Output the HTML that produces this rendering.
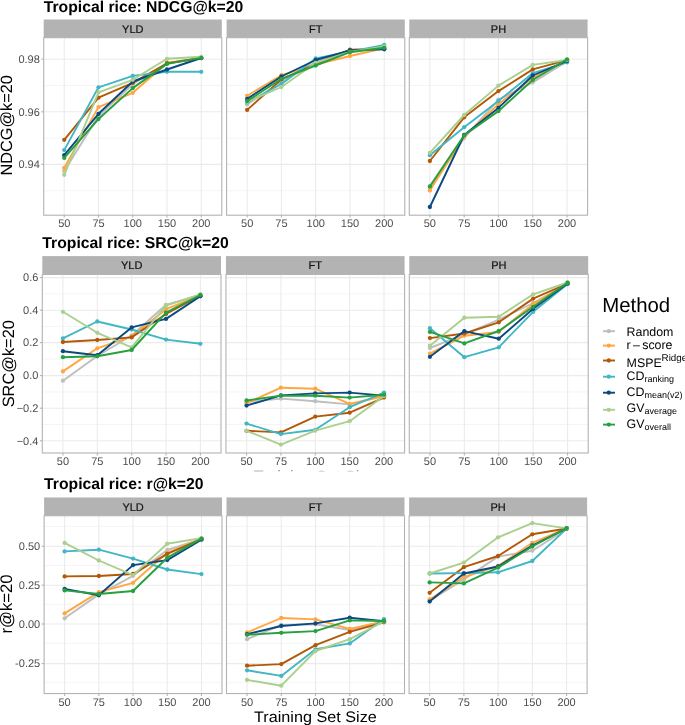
<!DOCTYPE html><html><head><meta charset="utf-8"><style>html,body{margin:0;padding:0;background:#fff;overflow:hidden}svg{display:block;will-change:transform}text{text-rendering:geometricPrecision}</style></head><body>
<svg width="685" height="725" viewBox="0 0 685 725" font-family='"Liberation Sans", sans-serif'>
<rect width="685" height="725" fill="#fff"/>
<text x="43.7" y="11.5" font-size="15.75" font-weight="bold" fill="#000">Tropical rice: NDCG@k=20</text>
<text transform="translate(11.9,125.3) rotate(-90)" text-anchor="middle" font-size="16.3" fill="#000">NDCG@k=20</text>
<rect x="43.70" y="19.50" width="178.10" height="18.20" fill="#B3B3B3"/>
<text x="132.8" y="32.7" text-anchor="middle" font-size="11" fill="#111" stroke="#111" stroke-width="0.2">YLD</text>
<line x1="43.70" x2="221.80" y1="190.7" y2="190.7" stroke="#F1F1F1" stroke-width="0.8"/>
<line x1="43.70" x2="221.80" y1="138.1" y2="138.1" stroke="#F1F1F1" stroke-width="0.8"/>
<line x1="43.70" x2="221.80" y1="85.5" y2="85.5" stroke="#F1F1F1" stroke-width="0.8"/>
<line x1="43.70" x2="221.80" y1="164.4" y2="164.4" stroke="#EBEBEB" stroke-width="1.1"/>
<line x1="43.70" x2="221.80" y1="111.8" y2="111.8" stroke="#EBEBEB" stroke-width="1.1"/>
<line x1="43.70" x2="221.80" y1="59.2" y2="59.2" stroke="#EBEBEB" stroke-width="1.1"/>
<line x1="64.25" x2="64.25" y1="37.70" y2="215.20" stroke="#EBEBEB" stroke-width="1.1"/>
<line x1="98.50" x2="98.50" y1="37.70" y2="215.20" stroke="#EBEBEB" stroke-width="1.1"/>
<line x1="132.75" x2="132.75" y1="37.70" y2="215.20" stroke="#EBEBEB" stroke-width="1.1"/>
<line x1="167.00" x2="167.00" y1="37.70" y2="215.20" stroke="#EBEBEB" stroke-width="1.1"/>
<line x1="201.25" x2="201.25" y1="37.70" y2="215.20" stroke="#EBEBEB" stroke-width="1.1"/>
<polyline points="64.25,171.00 98.50,116.00 132.75,84.20 167.00,63.50 201.25,58.00" fill="none" stroke="#BEBEBE" stroke-width="1.9" stroke-linejoin="round"/>
<circle cx="64.25" cy="171.00" r="2.15" fill="#BEBEBE"/>
<circle cx="98.50" cy="116.00" r="2.15" fill="#BEBEBE"/>
<circle cx="132.75" cy="84.20" r="2.15" fill="#BEBEBE"/>
<circle cx="167.00" cy="63.50" r="2.15" fill="#BEBEBE"/>
<circle cx="201.25" cy="58.00" r="2.15" fill="#BEBEBE"/>
<polyline points="64.25,167.80 98.50,107.10 132.75,92.80 167.00,63.00 201.25,58.00" fill="none" stroke="#FFA640" stroke-width="1.9" stroke-linejoin="round"/>
<circle cx="64.25" cy="167.80" r="2.15" fill="#FFA640"/>
<circle cx="98.50" cy="107.10" r="2.15" fill="#FFA640"/>
<circle cx="132.75" cy="92.80" r="2.15" fill="#FFA640"/>
<circle cx="167.00" cy="63.00" r="2.15" fill="#FFA640"/>
<circle cx="201.25" cy="58.00" r="2.15" fill="#FFA640"/>
<polyline points="64.25,139.80 98.50,97.70 132.75,82.90 167.00,63.20 201.25,58.00" fill="none" stroke="#B35806" stroke-width="1.9" stroke-linejoin="round"/>
<circle cx="64.25" cy="139.80" r="2.15" fill="#B35806"/>
<circle cx="98.50" cy="97.70" r="2.15" fill="#B35806"/>
<circle cx="132.75" cy="82.90" r="2.15" fill="#B35806"/>
<circle cx="167.00" cy="63.20" r="2.15" fill="#B35806"/>
<circle cx="201.25" cy="58.00" r="2.15" fill="#B35806"/>
<polyline points="64.25,150.10 98.50,87.30 132.75,75.90 167.00,71.80 201.25,71.80" fill="none" stroke="#41B6C4" stroke-width="1.9" stroke-linejoin="round"/>
<circle cx="64.25" cy="150.10" r="2.15" fill="#41B6C4"/>
<circle cx="98.50" cy="87.30" r="2.15" fill="#41B6C4"/>
<circle cx="132.75" cy="75.90" r="2.15" fill="#41B6C4"/>
<circle cx="167.00" cy="71.80" r="2.15" fill="#41B6C4"/>
<circle cx="201.25" cy="71.80" r="2.15" fill="#41B6C4"/>
<polyline points="64.25,155.20 98.50,113.80 132.75,81.50 167.00,69.50 201.25,58.00" fill="none" stroke="#0B4A80" stroke-width="1.9" stroke-linejoin="round"/>
<circle cx="64.25" cy="155.20" r="2.15" fill="#0B4A80"/>
<circle cx="98.50" cy="113.80" r="2.15" fill="#0B4A80"/>
<circle cx="132.75" cy="81.50" r="2.15" fill="#0B4A80"/>
<circle cx="167.00" cy="69.50" r="2.15" fill="#0B4A80"/>
<circle cx="201.25" cy="58.00" r="2.15" fill="#0B4A80"/>
<polyline points="64.25,174.80 98.50,92.30 132.75,79.80 167.00,58.80 201.25,56.80" fill="none" stroke="#AACF8E" stroke-width="1.9" stroke-linejoin="round"/>
<circle cx="64.25" cy="174.80" r="2.15" fill="#AACF8E"/>
<circle cx="98.50" cy="92.30" r="2.15" fill="#AACF8E"/>
<circle cx="132.75" cy="79.80" r="2.15" fill="#AACF8E"/>
<circle cx="167.00" cy="58.80" r="2.15" fill="#AACF8E"/>
<circle cx="201.25" cy="56.80" r="2.15" fill="#AACF8E"/>
<polyline points="64.25,157.90 98.50,119.00 132.75,88.10 167.00,63.90 201.25,57.90" fill="none" stroke="#27A03F" stroke-width="1.9" stroke-linejoin="round"/>
<circle cx="64.25" cy="157.90" r="2.15" fill="#27A03F"/>
<circle cx="98.50" cy="119.00" r="2.15" fill="#27A03F"/>
<circle cx="132.75" cy="88.10" r="2.15" fill="#27A03F"/>
<circle cx="167.00" cy="63.90" r="2.15" fill="#27A03F"/>
<circle cx="201.25" cy="57.90" r="2.15" fill="#27A03F"/>
<rect x="43.70" y="37.70" width="178.10" height="177.50" fill="none" stroke="#B3B3B3" stroke-width="1.1"/>
<line x1="64.25" x2="64.25" y1="215.20" y2="217.60" stroke="#B3B3B3" stroke-width="1.1"/>
<text x="64.25" y="227.4" text-anchor="middle" font-size="11" fill="#4D4D4D">50</text>
<line x1="98.50" x2="98.50" y1="215.20" y2="217.60" stroke="#B3B3B3" stroke-width="1.1"/>
<text x="98.50" y="227.4" text-anchor="middle" font-size="11" fill="#4D4D4D">75</text>
<line x1="132.75" x2="132.75" y1="215.20" y2="217.60" stroke="#B3B3B3" stroke-width="1.1"/>
<text x="132.75" y="227.4" text-anchor="middle" font-size="11" fill="#4D4D4D">100</text>
<line x1="167.00" x2="167.00" y1="215.20" y2="217.60" stroke="#B3B3B3" stroke-width="1.1"/>
<text x="167.00" y="227.4" text-anchor="middle" font-size="11" fill="#4D4D4D">150</text>
<line x1="201.25" x2="201.25" y1="215.20" y2="217.60" stroke="#B3B3B3" stroke-width="1.1"/>
<text x="201.25" y="227.4" text-anchor="middle" font-size="11" fill="#4D4D4D">200</text>
<rect x="226.60" y="19.50" width="178.20" height="18.20" fill="#B3B3B3"/>
<text x="315.7" y="32.7" text-anchor="middle" font-size="11" fill="#111" stroke="#111" stroke-width="0.2">FT</text>
<line x1="226.60" x2="404.80" y1="190.7" y2="190.7" stroke="#F1F1F1" stroke-width="0.8"/>
<line x1="226.60" x2="404.80" y1="138.1" y2="138.1" stroke="#F1F1F1" stroke-width="0.8"/>
<line x1="226.60" x2="404.80" y1="85.5" y2="85.5" stroke="#F1F1F1" stroke-width="0.8"/>
<line x1="226.60" x2="404.80" y1="164.4" y2="164.4" stroke="#EBEBEB" stroke-width="1.1"/>
<line x1="226.60" x2="404.80" y1="111.8" y2="111.8" stroke="#EBEBEB" stroke-width="1.1"/>
<line x1="226.60" x2="404.80" y1="59.2" y2="59.2" stroke="#EBEBEB" stroke-width="1.1"/>
<line x1="247.16" x2="247.16" y1="37.70" y2="215.20" stroke="#EBEBEB" stroke-width="1.1"/>
<line x1="281.43" x2="281.43" y1="37.70" y2="215.20" stroke="#EBEBEB" stroke-width="1.1"/>
<line x1="315.70" x2="315.70" y1="37.70" y2="215.20" stroke="#EBEBEB" stroke-width="1.1"/>
<line x1="349.97" x2="349.97" y1="37.70" y2="215.20" stroke="#EBEBEB" stroke-width="1.1"/>
<line x1="384.24" x2="384.24" y1="37.70" y2="215.20" stroke="#EBEBEB" stroke-width="1.1"/>
<polyline points="247.16,104.40 281.43,82.00 315.70,62.00 349.97,51.00 384.24,48.00" fill="none" stroke="#BEBEBE" stroke-width="1.9" stroke-linejoin="round"/>
<circle cx="247.16" cy="104.40" r="2.15" fill="#BEBEBE"/>
<circle cx="281.43" cy="82.00" r="2.15" fill="#BEBEBE"/>
<circle cx="315.70" cy="62.00" r="2.15" fill="#BEBEBE"/>
<circle cx="349.97" cy="51.00" r="2.15" fill="#BEBEBE"/>
<circle cx="384.24" cy="48.00" r="2.15" fill="#BEBEBE"/>
<polyline points="247.16,95.80 281.43,75.20 315.70,64.70 349.97,56.00 384.24,48.20" fill="none" stroke="#FFA640" stroke-width="1.9" stroke-linejoin="round"/>
<circle cx="247.16" cy="95.80" r="2.15" fill="#FFA640"/>
<circle cx="281.43" cy="75.20" r="2.15" fill="#FFA640"/>
<circle cx="315.70" cy="64.70" r="2.15" fill="#FFA640"/>
<circle cx="349.97" cy="56.00" r="2.15" fill="#FFA640"/>
<circle cx="384.24" cy="48.20" r="2.15" fill="#FFA640"/>
<polyline points="247.16,109.90 281.43,79.40 315.70,63.90 349.97,49.70 384.24,48.70" fill="none" stroke="#B35806" stroke-width="1.9" stroke-linejoin="round"/>
<circle cx="247.16" cy="109.90" r="2.15" fill="#B35806"/>
<circle cx="281.43" cy="79.40" r="2.15" fill="#B35806"/>
<circle cx="315.70" cy="63.90" r="2.15" fill="#B35806"/>
<circle cx="349.97" cy="49.70" r="2.15" fill="#B35806"/>
<circle cx="384.24" cy="48.70" r="2.15" fill="#B35806"/>
<polyline points="247.16,102.40 281.43,84.00 315.70,58.50 349.97,51.60 384.24,45.00" fill="none" stroke="#41B6C4" stroke-width="1.9" stroke-linejoin="round"/>
<circle cx="247.16" cy="102.40" r="2.15" fill="#41B6C4"/>
<circle cx="281.43" cy="84.00" r="2.15" fill="#41B6C4"/>
<circle cx="315.70" cy="58.50" r="2.15" fill="#41B6C4"/>
<circle cx="349.97" cy="51.60" r="2.15" fill="#41B6C4"/>
<circle cx="384.24" cy="45.00" r="2.15" fill="#41B6C4"/>
<polyline points="247.16,98.90 281.43,76.50 315.70,60.00 349.97,50.40 384.24,49.30" fill="none" stroke="#0B4A80" stroke-width="1.9" stroke-linejoin="round"/>
<circle cx="247.16" cy="98.90" r="2.15" fill="#0B4A80"/>
<circle cx="281.43" cy="76.50" r="2.15" fill="#0B4A80"/>
<circle cx="315.70" cy="60.00" r="2.15" fill="#0B4A80"/>
<circle cx="349.97" cy="50.40" r="2.15" fill="#0B4A80"/>
<circle cx="384.24" cy="49.30" r="2.15" fill="#0B4A80"/>
<polyline points="247.16,101.80 281.43,87.00 315.70,62.80 349.97,51.90 384.24,46.40" fill="none" stroke="#AACF8E" stroke-width="1.9" stroke-linejoin="round"/>
<circle cx="247.16" cy="101.80" r="2.15" fill="#AACF8E"/>
<circle cx="281.43" cy="87.00" r="2.15" fill="#AACF8E"/>
<circle cx="315.70" cy="62.80" r="2.15" fill="#AACF8E"/>
<circle cx="349.97" cy="51.90" r="2.15" fill="#AACF8E"/>
<circle cx="384.24" cy="46.40" r="2.15" fill="#AACF8E"/>
<polyline points="247.16,101.10 281.43,78.80 315.70,65.50 349.97,52.20 384.24,47.80" fill="none" stroke="#27A03F" stroke-width="1.9" stroke-linejoin="round"/>
<circle cx="247.16" cy="101.10" r="2.15" fill="#27A03F"/>
<circle cx="281.43" cy="78.80" r="2.15" fill="#27A03F"/>
<circle cx="315.70" cy="65.50" r="2.15" fill="#27A03F"/>
<circle cx="349.97" cy="52.20" r="2.15" fill="#27A03F"/>
<circle cx="384.24" cy="47.80" r="2.15" fill="#27A03F"/>
<rect x="226.60" y="37.70" width="178.20" height="177.50" fill="none" stroke="#B3B3B3" stroke-width="1.1"/>
<line x1="247.16" x2="247.16" y1="215.20" y2="217.60" stroke="#B3B3B3" stroke-width="1.1"/>
<text x="247.16" y="227.4" text-anchor="middle" font-size="11" fill="#4D4D4D">50</text>
<line x1="281.43" x2="281.43" y1="215.20" y2="217.60" stroke="#B3B3B3" stroke-width="1.1"/>
<text x="281.43" y="227.4" text-anchor="middle" font-size="11" fill="#4D4D4D">75</text>
<line x1="315.70" x2="315.70" y1="215.20" y2="217.60" stroke="#B3B3B3" stroke-width="1.1"/>
<text x="315.70" y="227.4" text-anchor="middle" font-size="11" fill="#4D4D4D">100</text>
<line x1="349.97" x2="349.97" y1="215.20" y2="217.60" stroke="#B3B3B3" stroke-width="1.1"/>
<text x="349.97" y="227.4" text-anchor="middle" font-size="11" fill="#4D4D4D">150</text>
<line x1="384.24" x2="384.24" y1="215.20" y2="217.60" stroke="#B3B3B3" stroke-width="1.1"/>
<text x="384.24" y="227.4" text-anchor="middle" font-size="11" fill="#4D4D4D">200</text>
<rect x="409.30" y="19.50" width="178.30" height="18.20" fill="#B3B3B3"/>
<text x="498.5" y="32.7" text-anchor="middle" font-size="11" fill="#111" stroke="#111" stroke-width="0.2">PH</text>
<line x1="409.30" x2="587.60" y1="190.7" y2="190.7" stroke="#F1F1F1" stroke-width="0.8"/>
<line x1="409.30" x2="587.60" y1="138.1" y2="138.1" stroke="#F1F1F1" stroke-width="0.8"/>
<line x1="409.30" x2="587.60" y1="85.5" y2="85.5" stroke="#F1F1F1" stroke-width="0.8"/>
<line x1="409.30" x2="587.60" y1="164.4" y2="164.4" stroke="#EBEBEB" stroke-width="1.1"/>
<line x1="409.30" x2="587.60" y1="111.8" y2="111.8" stroke="#EBEBEB" stroke-width="1.1"/>
<line x1="409.30" x2="587.60" y1="59.2" y2="59.2" stroke="#EBEBEB" stroke-width="1.1"/>
<line x1="429.87" x2="429.87" y1="37.70" y2="215.20" stroke="#EBEBEB" stroke-width="1.1"/>
<line x1="464.16" x2="464.16" y1="37.70" y2="215.20" stroke="#EBEBEB" stroke-width="1.1"/>
<line x1="498.45" x2="498.45" y1="37.70" y2="215.20" stroke="#EBEBEB" stroke-width="1.1"/>
<line x1="532.74" x2="532.74" y1="37.70" y2="215.20" stroke="#EBEBEB" stroke-width="1.1"/>
<line x1="567.03" x2="567.03" y1="37.70" y2="215.20" stroke="#EBEBEB" stroke-width="1.1"/>
<polyline points="429.87,188.50 464.16,138.00 498.45,99.60 532.74,82.40 567.03,61.50" fill="none" stroke="#BEBEBE" stroke-width="1.9" stroke-linejoin="round"/>
<circle cx="429.87" cy="188.50" r="2.15" fill="#BEBEBE"/>
<circle cx="464.16" cy="138.00" r="2.15" fill="#BEBEBE"/>
<circle cx="498.45" cy="99.60" r="2.15" fill="#BEBEBE"/>
<circle cx="532.74" cy="82.40" r="2.15" fill="#BEBEBE"/>
<circle cx="567.03" cy="61.50" r="2.15" fill="#BEBEBE"/>
<polyline points="429.87,190.60 464.16,136.40 498.45,104.20 532.74,77.80 567.03,60.50" fill="none" stroke="#FFA640" stroke-width="1.9" stroke-linejoin="round"/>
<circle cx="429.87" cy="190.60" r="2.15" fill="#FFA640"/>
<circle cx="464.16" cy="136.40" r="2.15" fill="#FFA640"/>
<circle cx="498.45" cy="104.20" r="2.15" fill="#FFA640"/>
<circle cx="532.74" cy="77.80" r="2.15" fill="#FFA640"/>
<circle cx="567.03" cy="60.50" r="2.15" fill="#FFA640"/>
<polyline points="429.87,161.00 464.16,117.30 498.45,91.10 532.74,69.40 567.03,60.20" fill="none" stroke="#B35806" stroke-width="1.9" stroke-linejoin="round"/>
<circle cx="429.87" cy="161.00" r="2.15" fill="#B35806"/>
<circle cx="464.16" cy="117.30" r="2.15" fill="#B35806"/>
<circle cx="498.45" cy="91.10" r="2.15" fill="#B35806"/>
<circle cx="532.74" cy="69.40" r="2.15" fill="#B35806"/>
<circle cx="567.03" cy="60.20" r="2.15" fill="#B35806"/>
<polyline points="429.87,155.20 464.16,127.20 498.45,101.00 532.74,73.20 567.03,62.30" fill="none" stroke="#41B6C4" stroke-width="1.9" stroke-linejoin="round"/>
<circle cx="429.87" cy="155.20" r="2.15" fill="#41B6C4"/>
<circle cx="464.16" cy="127.20" r="2.15" fill="#41B6C4"/>
<circle cx="498.45" cy="101.00" r="2.15" fill="#41B6C4"/>
<circle cx="532.74" cy="73.20" r="2.15" fill="#41B6C4"/>
<circle cx="567.03" cy="62.30" r="2.15" fill="#41B6C4"/>
<polyline points="429.87,207.00 464.16,135.00 498.45,107.90 532.74,75.50 567.03,61.00" fill="none" stroke="#0B4A80" stroke-width="1.9" stroke-linejoin="round"/>
<circle cx="429.87" cy="207.00" r="2.15" fill="#0B4A80"/>
<circle cx="464.16" cy="135.00" r="2.15" fill="#0B4A80"/>
<circle cx="498.45" cy="107.90" r="2.15" fill="#0B4A80"/>
<circle cx="532.74" cy="75.50" r="2.15" fill="#0B4A80"/>
<circle cx="567.03" cy="61.00" r="2.15" fill="#0B4A80"/>
<polyline points="429.87,152.80 464.16,115.00 498.45,85.60 532.74,64.90 567.03,60.00" fill="none" stroke="#AACF8E" stroke-width="1.9" stroke-linejoin="round"/>
<circle cx="429.87" cy="152.80" r="2.15" fill="#AACF8E"/>
<circle cx="464.16" cy="115.00" r="2.15" fill="#AACF8E"/>
<circle cx="498.45" cy="85.60" r="2.15" fill="#AACF8E"/>
<circle cx="532.74" cy="64.90" r="2.15" fill="#AACF8E"/>
<circle cx="567.03" cy="60.00" r="2.15" fill="#AACF8E"/>
<polyline points="429.87,186.40 464.16,135.30 498.45,111.10 532.74,80.00 567.03,59.40" fill="none" stroke="#27A03F" stroke-width="1.9" stroke-linejoin="round"/>
<circle cx="429.87" cy="186.40" r="2.15" fill="#27A03F"/>
<circle cx="464.16" cy="135.30" r="2.15" fill="#27A03F"/>
<circle cx="498.45" cy="111.10" r="2.15" fill="#27A03F"/>
<circle cx="532.74" cy="80.00" r="2.15" fill="#27A03F"/>
<circle cx="567.03" cy="59.40" r="2.15" fill="#27A03F"/>
<rect x="409.30" y="37.70" width="178.30" height="177.50" fill="none" stroke="#B3B3B3" stroke-width="1.1"/>
<line x1="429.87" x2="429.87" y1="215.20" y2="217.60" stroke="#B3B3B3" stroke-width="1.1"/>
<text x="429.87" y="227.4" text-anchor="middle" font-size="11" fill="#4D4D4D">50</text>
<line x1="464.16" x2="464.16" y1="215.20" y2="217.60" stroke="#B3B3B3" stroke-width="1.1"/>
<text x="464.16" y="227.4" text-anchor="middle" font-size="11" fill="#4D4D4D">75</text>
<line x1="498.45" x2="498.45" y1="215.20" y2="217.60" stroke="#B3B3B3" stroke-width="1.1"/>
<text x="498.45" y="227.4" text-anchor="middle" font-size="11" fill="#4D4D4D">100</text>
<line x1="532.74" x2="532.74" y1="215.20" y2="217.60" stroke="#B3B3B3" stroke-width="1.1"/>
<text x="532.74" y="227.4" text-anchor="middle" font-size="11" fill="#4D4D4D">150</text>
<line x1="567.03" x2="567.03" y1="215.20" y2="217.60" stroke="#B3B3B3" stroke-width="1.1"/>
<text x="567.03" y="227.4" text-anchor="middle" font-size="11" fill="#4D4D4D">200</text>
<line x1="41.30" x2="43.70" y1="164.4" y2="164.4" stroke="#B3B3B3" stroke-width="1.1"/>
<text x="39.80" y="168.2" text-anchor="end" font-size="11" fill="#4D4D4D">0.94</text>
<line x1="41.30" x2="43.70" y1="111.8" y2="111.8" stroke="#B3B3B3" stroke-width="1.1"/>
<text x="39.80" y="115.6" text-anchor="end" font-size="11" fill="#4D4D4D">0.96</text>
<line x1="41.30" x2="43.70" y1="59.2" y2="59.2" stroke="#B3B3B3" stroke-width="1.1"/>
<text x="39.80" y="63.0" text-anchor="end" font-size="11" fill="#4D4D4D">0.98</text>
<text x="42.3" y="248.2" font-size="15.75" font-weight="bold" fill="#000">Tropical rice: SRC@k=20</text>
<text transform="translate(13.9,363.7) rotate(-90)" text-anchor="middle" font-size="16.4" fill="#000">SRC@k=20</text>
<rect x="42.30" y="256.10" width="178.70" height="18.30" fill="#B3B3B3"/>
<text x="131.7" y="269.4" text-anchor="middle" font-size="11" fill="#111" stroke="#111" stroke-width="0.2">YLD</text>
<line x1="42.30" x2="221.00" y1="424.5" y2="424.5" stroke="#F1F1F1" stroke-width="0.8"/>
<line x1="42.30" x2="221.00" y1="391.9" y2="391.9" stroke="#F1F1F1" stroke-width="0.8"/>
<line x1="42.30" x2="221.00" y1="359.1" y2="359.1" stroke="#F1F1F1" stroke-width="0.8"/>
<line x1="42.30" x2="221.00" y1="326.4" y2="326.4" stroke="#F1F1F1" stroke-width="0.8"/>
<line x1="42.30" x2="221.00" y1="293.9" y2="293.9" stroke="#F1F1F1" stroke-width="0.8"/>
<line x1="42.30" x2="221.00" y1="440.8" y2="440.8" stroke="#EBEBEB" stroke-width="1.1"/>
<line x1="42.30" x2="221.00" y1="408.2" y2="408.2" stroke="#EBEBEB" stroke-width="1.1"/>
<line x1="42.30" x2="221.00" y1="375.6" y2="375.6" stroke="#EBEBEB" stroke-width="1.1"/>
<line x1="42.30" x2="221.00" y1="342.6" y2="342.6" stroke="#EBEBEB" stroke-width="1.1"/>
<line x1="42.30" x2="221.00" y1="310.2" y2="310.2" stroke="#EBEBEB" stroke-width="1.1"/>
<line x1="42.30" x2="221.00" y1="277.6" y2="277.6" stroke="#EBEBEB" stroke-width="1.1"/>
<line x1="62.92" x2="62.92" y1="274.40" y2="453.00" stroke="#EBEBEB" stroke-width="1.1"/>
<line x1="97.28" x2="97.28" y1="274.40" y2="453.00" stroke="#EBEBEB" stroke-width="1.1"/>
<line x1="131.65" x2="131.65" y1="274.40" y2="453.00" stroke="#EBEBEB" stroke-width="1.1"/>
<line x1="166.02" x2="166.02" y1="274.40" y2="453.00" stroke="#EBEBEB" stroke-width="1.1"/>
<line x1="200.38" x2="200.38" y1="274.40" y2="453.00" stroke="#EBEBEB" stroke-width="1.1"/>
<polyline points="62.92,380.70 97.28,356.00 131.65,335.50 166.02,304.80 200.38,295.00" fill="none" stroke="#BEBEBE" stroke-width="1.9" stroke-linejoin="round"/>
<circle cx="62.92" cy="380.70" r="2.15" fill="#BEBEBE"/>
<circle cx="97.28" cy="356.00" r="2.15" fill="#BEBEBE"/>
<circle cx="131.65" cy="335.50" r="2.15" fill="#BEBEBE"/>
<circle cx="166.02" cy="304.80" r="2.15" fill="#BEBEBE"/>
<circle cx="200.38" cy="295.00" r="2.15" fill="#BEBEBE"/>
<polyline points="62.92,371.40 97.28,348.30 131.65,336.30 166.02,309.20 200.38,295.50" fill="none" stroke="#FFA640" stroke-width="1.9" stroke-linejoin="round"/>
<circle cx="62.92" cy="371.40" r="2.15" fill="#FFA640"/>
<circle cx="97.28" cy="348.30" r="2.15" fill="#FFA640"/>
<circle cx="131.65" cy="336.30" r="2.15" fill="#FFA640"/>
<circle cx="166.02" cy="309.20" r="2.15" fill="#FFA640"/>
<circle cx="200.38" cy="295.50" r="2.15" fill="#FFA640"/>
<polyline points="62.92,342.00 97.28,340.00 131.65,337.40 166.02,314.00 200.38,295.60" fill="none" stroke="#B35806" stroke-width="1.9" stroke-linejoin="round"/>
<circle cx="62.92" cy="342.00" r="2.15" fill="#B35806"/>
<circle cx="97.28" cy="340.00" r="2.15" fill="#B35806"/>
<circle cx="131.65" cy="337.40" r="2.15" fill="#B35806"/>
<circle cx="166.02" cy="314.00" r="2.15" fill="#B35806"/>
<circle cx="200.38" cy="295.60" r="2.15" fill="#B35806"/>
<polyline points="62.92,338.30 97.28,321.50 131.65,329.50 166.02,339.60 200.38,343.80" fill="none" stroke="#41B6C4" stroke-width="1.9" stroke-linejoin="round"/>
<circle cx="62.92" cy="338.30" r="2.15" fill="#41B6C4"/>
<circle cx="97.28" cy="321.50" r="2.15" fill="#41B6C4"/>
<circle cx="131.65" cy="329.50" r="2.15" fill="#41B6C4"/>
<circle cx="166.02" cy="339.60" r="2.15" fill="#41B6C4"/>
<circle cx="200.38" cy="343.80" r="2.15" fill="#41B6C4"/>
<polyline points="62.92,351.20 97.28,355.20 131.65,327.40 166.02,318.90 200.38,296.30" fill="none" stroke="#0B4A80" stroke-width="1.9" stroke-linejoin="round"/>
<circle cx="62.92" cy="351.20" r="2.15" fill="#0B4A80"/>
<circle cx="97.28" cy="355.20" r="2.15" fill="#0B4A80"/>
<circle cx="131.65" cy="327.40" r="2.15" fill="#0B4A80"/>
<circle cx="166.02" cy="318.90" r="2.15" fill="#0B4A80"/>
<circle cx="200.38" cy="296.30" r="2.15" fill="#0B4A80"/>
<polyline points="62.92,311.80 97.28,332.80 131.65,347.40 166.02,305.50 200.38,294.30" fill="none" stroke="#AACF8E" stroke-width="1.9" stroke-linejoin="round"/>
<circle cx="62.92" cy="311.80" r="2.15" fill="#AACF8E"/>
<circle cx="97.28" cy="332.80" r="2.15" fill="#AACF8E"/>
<circle cx="131.65" cy="347.40" r="2.15" fill="#AACF8E"/>
<circle cx="166.02" cy="305.50" r="2.15" fill="#AACF8E"/>
<circle cx="200.38" cy="294.30" r="2.15" fill="#AACF8E"/>
<polyline points="62.92,357.20 97.28,356.30 131.65,350.00 166.02,312.70 200.38,295.00" fill="none" stroke="#27A03F" stroke-width="1.9" stroke-linejoin="round"/>
<circle cx="62.92" cy="357.20" r="2.15" fill="#27A03F"/>
<circle cx="97.28" cy="356.30" r="2.15" fill="#27A03F"/>
<circle cx="131.65" cy="350.00" r="2.15" fill="#27A03F"/>
<circle cx="166.02" cy="312.70" r="2.15" fill="#27A03F"/>
<circle cx="200.38" cy="295.00" r="2.15" fill="#27A03F"/>
<rect x="42.30" y="274.40" width="178.70" height="178.60" fill="none" stroke="#B3B3B3" stroke-width="1.1"/>
<line x1="62.92" x2="62.92" y1="453.00" y2="455.40" stroke="#B3B3B3" stroke-width="1.1"/>
<text x="62.92" y="465.2" text-anchor="middle" font-size="11" fill="#4D4D4D">50</text>
<line x1="97.28" x2="97.28" y1="453.00" y2="455.40" stroke="#B3B3B3" stroke-width="1.1"/>
<text x="97.28" y="465.2" text-anchor="middle" font-size="11" fill="#4D4D4D">75</text>
<line x1="131.65" x2="131.65" y1="453.00" y2="455.40" stroke="#B3B3B3" stroke-width="1.1"/>
<text x="131.65" y="465.2" text-anchor="middle" font-size="11" fill="#4D4D4D">100</text>
<line x1="166.02" x2="166.02" y1="453.00" y2="455.40" stroke="#B3B3B3" stroke-width="1.1"/>
<text x="166.02" y="465.2" text-anchor="middle" font-size="11" fill="#4D4D4D">150</text>
<line x1="200.38" x2="200.38" y1="453.00" y2="455.40" stroke="#B3B3B3" stroke-width="1.1"/>
<text x="200.38" y="465.2" text-anchor="middle" font-size="11" fill="#4D4D4D">200</text>
<rect x="225.95" y="256.10" width="178.65" height="18.30" fill="#B3B3B3"/>
<text x="315.3" y="269.4" text-anchor="middle" font-size="11" fill="#111" stroke="#111" stroke-width="0.2">FT</text>
<line x1="225.95" x2="404.60" y1="424.5" y2="424.5" stroke="#F1F1F1" stroke-width="0.8"/>
<line x1="225.95" x2="404.60" y1="391.9" y2="391.9" stroke="#F1F1F1" stroke-width="0.8"/>
<line x1="225.95" x2="404.60" y1="359.1" y2="359.1" stroke="#F1F1F1" stroke-width="0.8"/>
<line x1="225.95" x2="404.60" y1="326.4" y2="326.4" stroke="#F1F1F1" stroke-width="0.8"/>
<line x1="225.95" x2="404.60" y1="293.9" y2="293.9" stroke="#F1F1F1" stroke-width="0.8"/>
<line x1="225.95" x2="404.60" y1="440.8" y2="440.8" stroke="#EBEBEB" stroke-width="1.1"/>
<line x1="225.95" x2="404.60" y1="408.2" y2="408.2" stroke="#EBEBEB" stroke-width="1.1"/>
<line x1="225.95" x2="404.60" y1="375.6" y2="375.6" stroke="#EBEBEB" stroke-width="1.1"/>
<line x1="225.95" x2="404.60" y1="342.6" y2="342.6" stroke="#EBEBEB" stroke-width="1.1"/>
<line x1="225.95" x2="404.60" y1="310.2" y2="310.2" stroke="#EBEBEB" stroke-width="1.1"/>
<line x1="225.95" x2="404.60" y1="277.6" y2="277.6" stroke="#EBEBEB" stroke-width="1.1"/>
<line x1="246.56" x2="246.56" y1="274.40" y2="453.00" stroke="#EBEBEB" stroke-width="1.1"/>
<line x1="280.92" x2="280.92" y1="274.40" y2="453.00" stroke="#EBEBEB" stroke-width="1.1"/>
<line x1="315.27" x2="315.27" y1="274.40" y2="453.00" stroke="#EBEBEB" stroke-width="1.1"/>
<line x1="349.63" x2="349.63" y1="274.40" y2="453.00" stroke="#EBEBEB" stroke-width="1.1"/>
<line x1="383.99" x2="383.99" y1="274.40" y2="453.00" stroke="#EBEBEB" stroke-width="1.1"/>
<polyline points="246.56,402.00 280.92,398.60 315.27,401.20 349.63,404.40 383.99,395.60" fill="none" stroke="#BEBEBE" stroke-width="1.9" stroke-linejoin="round"/>
<circle cx="246.56" cy="402.00" r="2.15" fill="#BEBEBE"/>
<circle cx="280.92" cy="398.60" r="2.15" fill="#BEBEBE"/>
<circle cx="315.27" cy="401.20" r="2.15" fill="#BEBEBE"/>
<circle cx="349.63" cy="404.40" r="2.15" fill="#BEBEBE"/>
<circle cx="383.99" cy="395.60" r="2.15" fill="#BEBEBE"/>
<polyline points="246.56,403.20 280.92,387.70 315.27,388.70 349.63,403.90 383.99,396.30" fill="none" stroke="#FFA640" stroke-width="1.9" stroke-linejoin="round"/>
<circle cx="246.56" cy="403.20" r="2.15" fill="#FFA640"/>
<circle cx="280.92" cy="387.70" r="2.15" fill="#FFA640"/>
<circle cx="315.27" cy="388.70" r="2.15" fill="#FFA640"/>
<circle cx="349.63" cy="403.90" r="2.15" fill="#FFA640"/>
<circle cx="383.99" cy="396.30" r="2.15" fill="#FFA640"/>
<polyline points="246.56,430.80 280.92,432.40 315.27,416.60 349.63,412.70 383.99,397.60" fill="none" stroke="#B35806" stroke-width="1.9" stroke-linejoin="round"/>
<circle cx="246.56" cy="430.80" r="2.15" fill="#B35806"/>
<circle cx="280.92" cy="432.40" r="2.15" fill="#B35806"/>
<circle cx="315.27" cy="416.60" r="2.15" fill="#B35806"/>
<circle cx="349.63" cy="412.70" r="2.15" fill="#B35806"/>
<circle cx="383.99" cy="397.60" r="2.15" fill="#B35806"/>
<polyline points="246.56,423.60 280.92,434.10 315.27,429.80 349.63,407.20 383.99,392.60" fill="none" stroke="#41B6C4" stroke-width="1.9" stroke-linejoin="round"/>
<circle cx="246.56" cy="423.60" r="2.15" fill="#41B6C4"/>
<circle cx="280.92" cy="434.10" r="2.15" fill="#41B6C4"/>
<circle cx="315.27" cy="429.80" r="2.15" fill="#41B6C4"/>
<circle cx="349.63" cy="407.20" r="2.15" fill="#41B6C4"/>
<circle cx="383.99" cy="392.60" r="2.15" fill="#41B6C4"/>
<polyline points="246.56,405.60 280.92,395.40 315.27,393.40 349.63,392.60 383.99,395.60" fill="none" stroke="#0B4A80" stroke-width="1.9" stroke-linejoin="round"/>
<circle cx="246.56" cy="405.60" r="2.15" fill="#0B4A80"/>
<circle cx="280.92" cy="395.40" r="2.15" fill="#0B4A80"/>
<circle cx="315.27" cy="393.40" r="2.15" fill="#0B4A80"/>
<circle cx="349.63" cy="392.60" r="2.15" fill="#0B4A80"/>
<circle cx="383.99" cy="395.60" r="2.15" fill="#0B4A80"/>
<polyline points="246.56,430.80 280.92,444.60 315.27,430.70 349.63,421.20 383.99,396.00" fill="none" stroke="#AACF8E" stroke-width="1.9" stroke-linejoin="round"/>
<circle cx="246.56" cy="430.80" r="2.15" fill="#AACF8E"/>
<circle cx="280.92" cy="444.60" r="2.15" fill="#AACF8E"/>
<circle cx="315.27" cy="430.70" r="2.15" fill="#AACF8E"/>
<circle cx="349.63" cy="421.20" r="2.15" fill="#AACF8E"/>
<circle cx="383.99" cy="396.00" r="2.15" fill="#AACF8E"/>
<polyline points="246.56,400.50 280.92,395.60 315.27,395.70 349.63,397.60 383.99,394.70" fill="none" stroke="#27A03F" stroke-width="1.9" stroke-linejoin="round"/>
<circle cx="246.56" cy="400.50" r="2.15" fill="#27A03F"/>
<circle cx="280.92" cy="395.60" r="2.15" fill="#27A03F"/>
<circle cx="315.27" cy="395.70" r="2.15" fill="#27A03F"/>
<circle cx="349.63" cy="397.60" r="2.15" fill="#27A03F"/>
<circle cx="383.99" cy="394.70" r="2.15" fill="#27A03F"/>
<rect x="225.95" y="274.40" width="178.65" height="178.60" fill="none" stroke="#B3B3B3" stroke-width="1.1"/>
<line x1="246.56" x2="246.56" y1="453.00" y2="455.40" stroke="#B3B3B3" stroke-width="1.1"/>
<text x="246.56" y="465.2" text-anchor="middle" font-size="11" fill="#4D4D4D">50</text>
<line x1="280.92" x2="280.92" y1="453.00" y2="455.40" stroke="#B3B3B3" stroke-width="1.1"/>
<text x="280.92" y="465.2" text-anchor="middle" font-size="11" fill="#4D4D4D">75</text>
<line x1="315.27" x2="315.27" y1="453.00" y2="455.40" stroke="#B3B3B3" stroke-width="1.1"/>
<text x="315.27" y="465.2" text-anchor="middle" font-size="11" fill="#4D4D4D">100</text>
<line x1="349.63" x2="349.63" y1="453.00" y2="455.40" stroke="#B3B3B3" stroke-width="1.1"/>
<text x="349.63" y="465.2" text-anchor="middle" font-size="11" fill="#4D4D4D">150</text>
<line x1="383.99" x2="383.99" y1="453.00" y2="455.40" stroke="#B3B3B3" stroke-width="1.1"/>
<text x="383.99" y="465.2" text-anchor="middle" font-size="11" fill="#4D4D4D">200</text>
<rect x="409.30" y="256.10" width="178.90" height="18.30" fill="#B3B3B3"/>
<text x="498.8" y="269.4" text-anchor="middle" font-size="11" fill="#111" stroke="#111" stroke-width="0.2">PH</text>
<line x1="409.30" x2="588.20" y1="424.5" y2="424.5" stroke="#F1F1F1" stroke-width="0.8"/>
<line x1="409.30" x2="588.20" y1="391.9" y2="391.9" stroke="#F1F1F1" stroke-width="0.8"/>
<line x1="409.30" x2="588.20" y1="359.1" y2="359.1" stroke="#F1F1F1" stroke-width="0.8"/>
<line x1="409.30" x2="588.20" y1="326.4" y2="326.4" stroke="#F1F1F1" stroke-width="0.8"/>
<line x1="409.30" x2="588.20" y1="293.9" y2="293.9" stroke="#F1F1F1" stroke-width="0.8"/>
<line x1="409.30" x2="588.20" y1="440.8" y2="440.8" stroke="#EBEBEB" stroke-width="1.1"/>
<line x1="409.30" x2="588.20" y1="408.2" y2="408.2" stroke="#EBEBEB" stroke-width="1.1"/>
<line x1="409.30" x2="588.20" y1="375.6" y2="375.6" stroke="#EBEBEB" stroke-width="1.1"/>
<line x1="409.30" x2="588.20" y1="342.6" y2="342.6" stroke="#EBEBEB" stroke-width="1.1"/>
<line x1="409.30" x2="588.20" y1="310.2" y2="310.2" stroke="#EBEBEB" stroke-width="1.1"/>
<line x1="409.30" x2="588.20" y1="277.6" y2="277.6" stroke="#EBEBEB" stroke-width="1.1"/>
<line x1="429.94" x2="429.94" y1="274.40" y2="453.00" stroke="#EBEBEB" stroke-width="1.1"/>
<line x1="464.35" x2="464.35" y1="274.40" y2="453.00" stroke="#EBEBEB" stroke-width="1.1"/>
<line x1="498.75" x2="498.75" y1="274.40" y2="453.00" stroke="#EBEBEB" stroke-width="1.1"/>
<line x1="533.15" x2="533.15" y1="274.40" y2="453.00" stroke="#EBEBEB" stroke-width="1.1"/>
<line x1="567.56" x2="567.56" y1="274.40" y2="453.00" stroke="#EBEBEB" stroke-width="1.1"/>
<polyline points="429.94,348.00 464.35,334.40 498.75,319.70 533.15,303.00 567.56,283.50" fill="none" stroke="#BEBEBE" stroke-width="1.9" stroke-linejoin="round"/>
<circle cx="429.94" cy="348.00" r="2.15" fill="#BEBEBE"/>
<circle cx="464.35" cy="334.40" r="2.15" fill="#BEBEBE"/>
<circle cx="498.75" cy="319.70" r="2.15" fill="#BEBEBE"/>
<circle cx="533.15" cy="303.00" r="2.15" fill="#BEBEBE"/>
<circle cx="567.56" cy="283.50" r="2.15" fill="#BEBEBE"/>
<polyline points="429.94,353.60 464.35,335.70 498.75,332.00 533.15,303.90 567.56,284.00" fill="none" stroke="#FFA640" stroke-width="1.9" stroke-linejoin="round"/>
<circle cx="429.94" cy="353.60" r="2.15" fill="#FFA640"/>
<circle cx="464.35" cy="335.70" r="2.15" fill="#FFA640"/>
<circle cx="498.75" cy="332.00" r="2.15" fill="#FFA640"/>
<circle cx="533.15" cy="303.90" r="2.15" fill="#FFA640"/>
<circle cx="567.56" cy="284.00" r="2.15" fill="#FFA640"/>
<polyline points="429.94,338.10 464.35,333.50 498.75,322.30 533.15,298.60 567.56,283.50" fill="none" stroke="#B35806" stroke-width="1.9" stroke-linejoin="round"/>
<circle cx="429.94" cy="338.10" r="2.15" fill="#B35806"/>
<circle cx="464.35" cy="333.50" r="2.15" fill="#B35806"/>
<circle cx="498.75" cy="322.30" r="2.15" fill="#B35806"/>
<circle cx="533.15" cy="298.60" r="2.15" fill="#B35806"/>
<circle cx="567.56" cy="283.50" r="2.15" fill="#B35806"/>
<polyline points="429.94,328.20 464.35,357.20 498.75,347.30 533.15,311.80 567.56,284.00" fill="none" stroke="#41B6C4" stroke-width="1.9" stroke-linejoin="round"/>
<circle cx="429.94" cy="328.20" r="2.15" fill="#41B6C4"/>
<circle cx="464.35" cy="357.20" r="2.15" fill="#41B6C4"/>
<circle cx="498.75" cy="347.30" r="2.15" fill="#41B6C4"/>
<circle cx="533.15" cy="311.80" r="2.15" fill="#41B6C4"/>
<circle cx="567.56" cy="284.00" r="2.15" fill="#41B6C4"/>
<polyline points="429.94,356.80 464.35,331.10 498.75,338.70 533.15,308.80 567.56,283.50" fill="none" stroke="#0B4A80" stroke-width="1.9" stroke-linejoin="round"/>
<circle cx="429.94" cy="356.80" r="2.15" fill="#0B4A80"/>
<circle cx="464.35" cy="331.10" r="2.15" fill="#0B4A80"/>
<circle cx="498.75" cy="338.70" r="2.15" fill="#0B4A80"/>
<circle cx="533.15" cy="308.80" r="2.15" fill="#0B4A80"/>
<circle cx="567.56" cy="283.50" r="2.15" fill="#0B4A80"/>
<polyline points="429.94,345.70 464.35,317.70 498.75,316.70 533.15,294.30 567.56,282.50" fill="none" stroke="#AACF8E" stroke-width="1.9" stroke-linejoin="round"/>
<circle cx="429.94" cy="345.70" r="2.15" fill="#AACF8E"/>
<circle cx="464.35" cy="317.70" r="2.15" fill="#AACF8E"/>
<circle cx="498.75" cy="316.70" r="2.15" fill="#AACF8E"/>
<circle cx="533.15" cy="294.30" r="2.15" fill="#AACF8E"/>
<circle cx="567.56" cy="282.50" r="2.15" fill="#AACF8E"/>
<polyline points="429.94,331.90 464.35,343.40 498.75,331.00 533.15,306.80 567.56,282.70" fill="none" stroke="#27A03F" stroke-width="1.9" stroke-linejoin="round"/>
<circle cx="429.94" cy="331.90" r="2.15" fill="#27A03F"/>
<circle cx="464.35" cy="343.40" r="2.15" fill="#27A03F"/>
<circle cx="498.75" cy="331.00" r="2.15" fill="#27A03F"/>
<circle cx="533.15" cy="306.80" r="2.15" fill="#27A03F"/>
<circle cx="567.56" cy="282.70" r="2.15" fill="#27A03F"/>
<rect x="409.30" y="274.40" width="178.90" height="178.60" fill="none" stroke="#B3B3B3" stroke-width="1.1"/>
<line x1="429.94" x2="429.94" y1="453.00" y2="455.40" stroke="#B3B3B3" stroke-width="1.1"/>
<text x="429.94" y="465.2" text-anchor="middle" font-size="11" fill="#4D4D4D">50</text>
<line x1="464.35" x2="464.35" y1="453.00" y2="455.40" stroke="#B3B3B3" stroke-width="1.1"/>
<text x="464.35" y="465.2" text-anchor="middle" font-size="11" fill="#4D4D4D">75</text>
<line x1="498.75" x2="498.75" y1="453.00" y2="455.40" stroke="#B3B3B3" stroke-width="1.1"/>
<text x="498.75" y="465.2" text-anchor="middle" font-size="11" fill="#4D4D4D">100</text>
<line x1="533.15" x2="533.15" y1="453.00" y2="455.40" stroke="#B3B3B3" stroke-width="1.1"/>
<text x="533.15" y="465.2" text-anchor="middle" font-size="11" fill="#4D4D4D">150</text>
<line x1="567.56" x2="567.56" y1="453.00" y2="455.40" stroke="#B3B3B3" stroke-width="1.1"/>
<text x="567.56" y="465.2" text-anchor="middle" font-size="11" fill="#4D4D4D">200</text>
<line x1="39.90" x2="42.30" y1="440.8" y2="440.8" stroke="#B3B3B3" stroke-width="1.1"/>
<text x="38.40" y="444.6" text-anchor="end" font-size="11" fill="#4D4D4D">−0.4</text>
<line x1="39.90" x2="42.30" y1="408.2" y2="408.2" stroke="#B3B3B3" stroke-width="1.1"/>
<text x="38.40" y="412.0" text-anchor="end" font-size="11" fill="#4D4D4D">−0.2</text>
<line x1="39.90" x2="42.30" y1="375.6" y2="375.6" stroke="#B3B3B3" stroke-width="1.1"/>
<text x="38.40" y="379.4" text-anchor="end" font-size="11" fill="#4D4D4D">0.0</text>
<line x1="39.90" x2="42.30" y1="342.6" y2="342.6" stroke="#B3B3B3" stroke-width="1.1"/>
<text x="38.40" y="346.4" text-anchor="end" font-size="11" fill="#4D4D4D">0.2</text>
<line x1="39.90" x2="42.30" y1="310.2" y2="310.2" stroke="#B3B3B3" stroke-width="1.1"/>
<text x="38.40" y="314.0" text-anchor="end" font-size="11" fill="#4D4D4D">0.4</text>
<line x1="39.90" x2="42.30" y1="277.6" y2="277.6" stroke="#B3B3B3" stroke-width="1.1"/>
<text x="38.40" y="281.4" text-anchor="end" font-size="11" fill="#4D4D4D">0.6</text>
<text x="44.1" y="489.4" font-size="15.75" font-weight="bold" fill="#000">Tropical rice: r@k=20</text>
<text transform="translate(11.7,604.0) rotate(-90)" text-anchor="middle" font-size="16.7" fill="#000">r@k=20</text>
<rect x="44.10" y="497.45" width="177.90" height="18.30" fill="#B3B3B3"/>
<text x="133.1" y="510.8" text-anchor="middle" font-size="11" fill="#111" stroke="#111" stroke-width="0.2">YLD</text>
<line x1="44.10" x2="222.00" y1="682.7" y2="682.7" stroke="#F1F1F1" stroke-width="0.8"/>
<line x1="44.10" x2="222.00" y1="643.4" y2="643.4" stroke="#F1F1F1" stroke-width="0.8"/>
<line x1="44.10" x2="222.00" y1="604.4" y2="604.4" stroke="#F1F1F1" stroke-width="0.8"/>
<line x1="44.10" x2="222.00" y1="565.5" y2="565.5" stroke="#F1F1F1" stroke-width="0.8"/>
<line x1="44.10" x2="222.00" y1="526.4" y2="526.4" stroke="#F1F1F1" stroke-width="0.8"/>
<line x1="44.10" x2="222.00" y1="663.6" y2="663.6" stroke="#EBEBEB" stroke-width="1.1"/>
<line x1="44.10" x2="222.00" y1="624.0" y2="624.0" stroke="#EBEBEB" stroke-width="1.1"/>
<line x1="44.10" x2="222.00" y1="585.2" y2="585.2" stroke="#EBEBEB" stroke-width="1.1"/>
<line x1="44.10" x2="222.00" y1="546.3" y2="546.3" stroke="#EBEBEB" stroke-width="1.1"/>
<line x1="64.63" x2="64.63" y1="515.75" y2="693.55" stroke="#EBEBEB" stroke-width="1.1"/>
<line x1="98.84" x2="98.84" y1="515.75" y2="693.55" stroke="#EBEBEB" stroke-width="1.1"/>
<line x1="133.05" x2="133.05" y1="515.75" y2="693.55" stroke="#EBEBEB" stroke-width="1.1"/>
<line x1="167.26" x2="167.26" y1="515.75" y2="693.55" stroke="#EBEBEB" stroke-width="1.1"/>
<line x1="201.47" x2="201.47" y1="515.75" y2="693.55" stroke="#EBEBEB" stroke-width="1.1"/>
<polyline points="64.63,618.30 98.84,594.40 133.05,575.80 167.26,550.00 201.47,539.00" fill="none" stroke="#BEBEBE" stroke-width="1.9" stroke-linejoin="round"/>
<circle cx="64.63" cy="618.30" r="2.15" fill="#BEBEBE"/>
<circle cx="98.84" cy="594.40" r="2.15" fill="#BEBEBE"/>
<circle cx="133.05" cy="575.80" r="2.15" fill="#BEBEBE"/>
<circle cx="167.26" cy="550.00" r="2.15" fill="#BEBEBE"/>
<circle cx="201.47" cy="539.00" r="2.15" fill="#BEBEBE"/>
<polyline points="64.63,613.40 98.84,592.10 133.05,582.80 167.26,552.80 201.47,539.00" fill="none" stroke="#FFA640" stroke-width="1.9" stroke-linejoin="round"/>
<circle cx="64.63" cy="613.40" r="2.15" fill="#FFA640"/>
<circle cx="98.84" cy="592.10" r="2.15" fill="#FFA640"/>
<circle cx="133.05" cy="582.80" r="2.15" fill="#FFA640"/>
<circle cx="167.26" cy="552.80" r="2.15" fill="#FFA640"/>
<circle cx="201.47" cy="539.00" r="2.15" fill="#FFA640"/>
<polyline points="64.63,576.40 98.84,576.00 133.05,574.00 167.26,553.90 201.47,539.00" fill="none" stroke="#B35806" stroke-width="1.9" stroke-linejoin="round"/>
<circle cx="64.63" cy="576.40" r="2.15" fill="#B35806"/>
<circle cx="98.84" cy="576.00" r="2.15" fill="#B35806"/>
<circle cx="133.05" cy="574.00" r="2.15" fill="#B35806"/>
<circle cx="167.26" cy="553.90" r="2.15" fill="#B35806"/>
<circle cx="201.47" cy="539.00" r="2.15" fill="#B35806"/>
<polyline points="64.63,551.40 98.84,549.70 133.05,558.60 167.26,569.50 201.47,574.10" fill="none" stroke="#41B6C4" stroke-width="1.9" stroke-linejoin="round"/>
<circle cx="64.63" cy="551.40" r="2.15" fill="#41B6C4"/>
<circle cx="98.84" cy="549.70" r="2.15" fill="#41B6C4"/>
<circle cx="133.05" cy="558.60" r="2.15" fill="#41B6C4"/>
<circle cx="167.26" cy="569.50" r="2.15" fill="#41B6C4"/>
<circle cx="201.47" cy="574.10" r="2.15" fill="#41B6C4"/>
<polyline points="64.63,588.90 98.84,595.30 133.05,565.10 167.26,560.10 201.47,539.70" fill="none" stroke="#0B4A80" stroke-width="1.9" stroke-linejoin="round"/>
<circle cx="64.63" cy="588.90" r="2.15" fill="#0B4A80"/>
<circle cx="98.84" cy="595.30" r="2.15" fill="#0B4A80"/>
<circle cx="133.05" cy="565.10" r="2.15" fill="#0B4A80"/>
<circle cx="167.26" cy="560.10" r="2.15" fill="#0B4A80"/>
<circle cx="201.47" cy="539.70" r="2.15" fill="#0B4A80"/>
<polyline points="64.63,542.90 98.84,560.50 133.05,575.10 167.26,543.70 201.47,538.10" fill="none" stroke="#AACF8E" stroke-width="1.9" stroke-linejoin="round"/>
<circle cx="64.63" cy="542.90" r="2.15" fill="#AACF8E"/>
<circle cx="98.84" cy="560.50" r="2.15" fill="#AACF8E"/>
<circle cx="133.05" cy="575.10" r="2.15" fill="#AACF8E"/>
<circle cx="167.26" cy="543.70" r="2.15" fill="#AACF8E"/>
<circle cx="201.47" cy="538.10" r="2.15" fill="#AACF8E"/>
<polyline points="64.63,590.40 98.84,594.00 133.05,591.00 167.26,557.70 201.47,538.70" fill="none" stroke="#27A03F" stroke-width="1.9" stroke-linejoin="round"/>
<circle cx="64.63" cy="590.40" r="2.15" fill="#27A03F"/>
<circle cx="98.84" cy="594.00" r="2.15" fill="#27A03F"/>
<circle cx="133.05" cy="591.00" r="2.15" fill="#27A03F"/>
<circle cx="167.26" cy="557.70" r="2.15" fill="#27A03F"/>
<circle cx="201.47" cy="538.70" r="2.15" fill="#27A03F"/>
<rect x="44.10" y="515.75" width="177.90" height="177.80" fill="none" stroke="#B3B3B3" stroke-width="1.1"/>
<line x1="64.63" x2="64.63" y1="693.55" y2="695.95" stroke="#B3B3B3" stroke-width="1.1"/>
<text x="64.63" y="705.8" text-anchor="middle" font-size="11" fill="#4D4D4D">50</text>
<line x1="98.84" x2="98.84" y1="693.55" y2="695.95" stroke="#B3B3B3" stroke-width="1.1"/>
<text x="98.84" y="705.8" text-anchor="middle" font-size="11" fill="#4D4D4D">75</text>
<line x1="133.05" x2="133.05" y1="693.55" y2="695.95" stroke="#B3B3B3" stroke-width="1.1"/>
<text x="133.05" y="705.8" text-anchor="middle" font-size="11" fill="#4D4D4D">100</text>
<line x1="167.26" x2="167.26" y1="693.55" y2="695.95" stroke="#B3B3B3" stroke-width="1.1"/>
<text x="167.26" y="705.8" text-anchor="middle" font-size="11" fill="#4D4D4D">150</text>
<line x1="201.47" x2="201.47" y1="693.55" y2="695.95" stroke="#B3B3B3" stroke-width="1.1"/>
<text x="201.47" y="705.8" text-anchor="middle" font-size="11" fill="#4D4D4D">200</text>
<rect x="226.50" y="497.45" width="178.00" height="18.30" fill="#B3B3B3"/>
<text x="315.5" y="510.8" text-anchor="middle" font-size="11" fill="#111" stroke="#111" stroke-width="0.2">FT</text>
<line x1="226.50" x2="404.50" y1="682.7" y2="682.7" stroke="#F1F1F1" stroke-width="0.8"/>
<line x1="226.50" x2="404.50" y1="643.4" y2="643.4" stroke="#F1F1F1" stroke-width="0.8"/>
<line x1="226.50" x2="404.50" y1="604.4" y2="604.4" stroke="#F1F1F1" stroke-width="0.8"/>
<line x1="226.50" x2="404.50" y1="565.5" y2="565.5" stroke="#F1F1F1" stroke-width="0.8"/>
<line x1="226.50" x2="404.50" y1="526.4" y2="526.4" stroke="#F1F1F1" stroke-width="0.8"/>
<line x1="226.50" x2="404.50" y1="663.6" y2="663.6" stroke="#EBEBEB" stroke-width="1.1"/>
<line x1="226.50" x2="404.50" y1="624.0" y2="624.0" stroke="#EBEBEB" stroke-width="1.1"/>
<line x1="226.50" x2="404.50" y1="585.2" y2="585.2" stroke="#EBEBEB" stroke-width="1.1"/>
<line x1="226.50" x2="404.50" y1="546.3" y2="546.3" stroke="#EBEBEB" stroke-width="1.1"/>
<line x1="247.04" x2="247.04" y1="515.75" y2="693.55" stroke="#EBEBEB" stroke-width="1.1"/>
<line x1="281.27" x2="281.27" y1="515.75" y2="693.55" stroke="#EBEBEB" stroke-width="1.1"/>
<line x1="315.50" x2="315.50" y1="515.75" y2="693.55" stroke="#EBEBEB" stroke-width="1.1"/>
<line x1="349.73" x2="349.73" y1="515.75" y2="693.55" stroke="#EBEBEB" stroke-width="1.1"/>
<line x1="383.96" x2="383.96" y1="515.75" y2="693.55" stroke="#EBEBEB" stroke-width="1.1"/>
<polyline points="247.04,639.20 281.27,625.00 315.50,624.30 349.73,630.00 383.96,621.50" fill="none" stroke="#BEBEBE" stroke-width="1.9" stroke-linejoin="round"/>
<circle cx="247.04" cy="639.20" r="2.15" fill="#BEBEBE"/>
<circle cx="281.27" cy="625.00" r="2.15" fill="#BEBEBE"/>
<circle cx="315.50" cy="624.30" r="2.15" fill="#BEBEBE"/>
<circle cx="349.73" cy="630.00" r="2.15" fill="#BEBEBE"/>
<circle cx="383.96" cy="621.50" r="2.15" fill="#BEBEBE"/>
<polyline points="247.04,632.50 281.27,618.00 315.50,619.40 349.73,628.90 383.96,621.50" fill="none" stroke="#FFA640" stroke-width="1.9" stroke-linejoin="round"/>
<circle cx="247.04" cy="632.50" r="2.15" fill="#FFA640"/>
<circle cx="281.27" cy="618.00" r="2.15" fill="#FFA640"/>
<circle cx="315.50" cy="619.40" r="2.15" fill="#FFA640"/>
<circle cx="349.73" cy="628.90" r="2.15" fill="#FFA640"/>
<circle cx="383.96" cy="621.50" r="2.15" fill="#FFA640"/>
<polyline points="247.04,665.70 281.27,664.10 315.50,645.20 349.73,631.90 383.96,622.30" fill="none" stroke="#B35806" stroke-width="1.9" stroke-linejoin="round"/>
<circle cx="247.04" cy="665.70" r="2.15" fill="#B35806"/>
<circle cx="281.27" cy="664.10" r="2.15" fill="#B35806"/>
<circle cx="315.50" cy="645.20" r="2.15" fill="#B35806"/>
<circle cx="349.73" cy="631.90" r="2.15" fill="#B35806"/>
<circle cx="383.96" cy="622.30" r="2.15" fill="#B35806"/>
<polyline points="247.04,670.30 281.27,675.90 315.50,649.30 349.73,643.40 383.96,619.10" fill="none" stroke="#41B6C4" stroke-width="1.9" stroke-linejoin="round"/>
<circle cx="247.04" cy="670.30" r="2.15" fill="#41B6C4"/>
<circle cx="281.27" cy="675.90" r="2.15" fill="#41B6C4"/>
<circle cx="315.50" cy="649.30" r="2.15" fill="#41B6C4"/>
<circle cx="349.73" cy="643.40" r="2.15" fill="#41B6C4"/>
<circle cx="383.96" cy="619.10" r="2.15" fill="#41B6C4"/>
<polyline points="247.04,634.20 281.27,626.00 315.50,623.40 349.73,617.70 383.96,621.30" fill="none" stroke="#0B4A80" stroke-width="1.9" stroke-linejoin="round"/>
<circle cx="247.04" cy="634.20" r="2.15" fill="#0B4A80"/>
<circle cx="281.27" cy="626.00" r="2.15" fill="#0B4A80"/>
<circle cx="315.50" cy="623.40" r="2.15" fill="#0B4A80"/>
<circle cx="349.73" cy="617.70" r="2.15" fill="#0B4A80"/>
<circle cx="383.96" cy="621.30" r="2.15" fill="#0B4A80"/>
<polyline points="247.04,679.90 281.27,685.70 315.50,651.00 349.73,639.20 383.96,621.50" fill="none" stroke="#AACF8E" stroke-width="1.9" stroke-linejoin="round"/>
<circle cx="247.04" cy="679.90" r="2.15" fill="#AACF8E"/>
<circle cx="281.27" cy="685.70" r="2.15" fill="#AACF8E"/>
<circle cx="315.50" cy="651.00" r="2.15" fill="#AACF8E"/>
<circle cx="349.73" cy="639.20" r="2.15" fill="#AACF8E"/>
<circle cx="383.96" cy="621.50" r="2.15" fill="#AACF8E"/>
<polyline points="247.04,634.80 281.27,632.80 315.50,631.10 349.73,620.40 383.96,621.00" fill="none" stroke="#27A03F" stroke-width="1.9" stroke-linejoin="round"/>
<circle cx="247.04" cy="634.80" r="2.15" fill="#27A03F"/>
<circle cx="281.27" cy="632.80" r="2.15" fill="#27A03F"/>
<circle cx="315.50" cy="631.10" r="2.15" fill="#27A03F"/>
<circle cx="349.73" cy="620.40" r="2.15" fill="#27A03F"/>
<circle cx="383.96" cy="621.00" r="2.15" fill="#27A03F"/>
<rect x="226.50" y="515.75" width="178.00" height="177.80" fill="none" stroke="#B3B3B3" stroke-width="1.1"/>
<line x1="247.04" x2="247.04" y1="693.55" y2="695.95" stroke="#B3B3B3" stroke-width="1.1"/>
<text x="247.04" y="705.8" text-anchor="middle" font-size="11" fill="#4D4D4D">50</text>
<line x1="281.27" x2="281.27" y1="693.55" y2="695.95" stroke="#B3B3B3" stroke-width="1.1"/>
<text x="281.27" y="705.8" text-anchor="middle" font-size="11" fill="#4D4D4D">75</text>
<line x1="315.50" x2="315.50" y1="693.55" y2="695.95" stroke="#B3B3B3" stroke-width="1.1"/>
<text x="315.50" y="705.8" text-anchor="middle" font-size="11" fill="#4D4D4D">100</text>
<line x1="349.73" x2="349.73" y1="693.55" y2="695.95" stroke="#B3B3B3" stroke-width="1.1"/>
<text x="349.73" y="705.8" text-anchor="middle" font-size="11" fill="#4D4D4D">150</text>
<line x1="383.96" x2="383.96" y1="693.55" y2="695.95" stroke="#B3B3B3" stroke-width="1.1"/>
<text x="383.96" y="705.8" text-anchor="middle" font-size="11" fill="#4D4D4D">200</text>
<rect x="409.10" y="497.45" width="178.00" height="18.30" fill="#B3B3B3"/>
<text x="498.1" y="510.8" text-anchor="middle" font-size="11" fill="#111" stroke="#111" stroke-width="0.2">PH</text>
<line x1="409.10" x2="587.10" y1="682.7" y2="682.7" stroke="#F1F1F1" stroke-width="0.8"/>
<line x1="409.10" x2="587.10" y1="643.4" y2="643.4" stroke="#F1F1F1" stroke-width="0.8"/>
<line x1="409.10" x2="587.10" y1="604.4" y2="604.4" stroke="#F1F1F1" stroke-width="0.8"/>
<line x1="409.10" x2="587.10" y1="565.5" y2="565.5" stroke="#F1F1F1" stroke-width="0.8"/>
<line x1="409.10" x2="587.10" y1="526.4" y2="526.4" stroke="#F1F1F1" stroke-width="0.8"/>
<line x1="409.10" x2="587.10" y1="663.6" y2="663.6" stroke="#EBEBEB" stroke-width="1.1"/>
<line x1="409.10" x2="587.10" y1="624.0" y2="624.0" stroke="#EBEBEB" stroke-width="1.1"/>
<line x1="409.10" x2="587.10" y1="585.2" y2="585.2" stroke="#EBEBEB" stroke-width="1.1"/>
<line x1="409.10" x2="587.10" y1="546.3" y2="546.3" stroke="#EBEBEB" stroke-width="1.1"/>
<line x1="429.64" x2="429.64" y1="515.75" y2="693.55" stroke="#EBEBEB" stroke-width="1.1"/>
<line x1="463.87" x2="463.87" y1="515.75" y2="693.55" stroke="#EBEBEB" stroke-width="1.1"/>
<line x1="498.10" x2="498.10" y1="515.75" y2="693.55" stroke="#EBEBEB" stroke-width="1.1"/>
<line x1="532.33" x2="532.33" y1="515.75" y2="693.55" stroke="#EBEBEB" stroke-width="1.1"/>
<line x1="566.56" x2="566.56" y1="515.75" y2="693.55" stroke="#EBEBEB" stroke-width="1.1"/>
<polyline points="429.64,600.70 463.87,579.40 498.10,556.60 532.33,550.70 566.56,529.00" fill="none" stroke="#BEBEBE" stroke-width="1.9" stroke-linejoin="round"/>
<circle cx="429.64" cy="600.70" r="2.15" fill="#BEBEBE"/>
<circle cx="463.87" cy="579.40" r="2.15" fill="#BEBEBE"/>
<circle cx="498.10" cy="556.60" r="2.15" fill="#BEBEBE"/>
<circle cx="532.33" cy="550.70" r="2.15" fill="#BEBEBE"/>
<circle cx="566.56" cy="529.00" r="2.15" fill="#BEBEBE"/>
<polyline points="429.64,599.50 463.87,577.00 498.10,566.00 532.33,542.80 566.56,528.50" fill="none" stroke="#FFA640" stroke-width="1.9" stroke-linejoin="round"/>
<circle cx="429.64" cy="599.50" r="2.15" fill="#FFA640"/>
<circle cx="463.87" cy="577.00" r="2.15" fill="#FFA640"/>
<circle cx="498.10" cy="566.00" r="2.15" fill="#FFA640"/>
<circle cx="532.33" cy="542.80" r="2.15" fill="#FFA640"/>
<circle cx="566.56" cy="528.50" r="2.15" fill="#FFA640"/>
<polyline points="429.64,592.80 463.87,567.20 498.10,556.00 532.33,534.30 566.56,528.50" fill="none" stroke="#B35806" stroke-width="1.9" stroke-linejoin="round"/>
<circle cx="429.64" cy="592.80" r="2.15" fill="#B35806"/>
<circle cx="463.87" cy="567.20" r="2.15" fill="#B35806"/>
<circle cx="498.10" cy="556.00" r="2.15" fill="#B35806"/>
<circle cx="532.33" cy="534.30" r="2.15" fill="#B35806"/>
<circle cx="566.56" cy="528.50" r="2.15" fill="#B35806"/>
<polyline points="429.64,573.50 463.87,573.10 498.10,572.30 532.33,561.00 566.56,528.60" fill="none" stroke="#41B6C4" stroke-width="1.9" stroke-linejoin="round"/>
<circle cx="429.64" cy="573.50" r="2.15" fill="#41B6C4"/>
<circle cx="463.87" cy="573.10" r="2.15" fill="#41B6C4"/>
<circle cx="498.10" cy="572.30" r="2.15" fill="#41B6C4"/>
<circle cx="532.33" cy="561.00" r="2.15" fill="#41B6C4"/>
<circle cx="566.56" cy="528.60" r="2.15" fill="#41B6C4"/>
<polyline points="429.64,601.60 463.87,573.50 498.10,566.50 532.33,545.50 566.56,528.50" fill="none" stroke="#0B4A80" stroke-width="1.9" stroke-linejoin="round"/>
<circle cx="429.64" cy="601.60" r="2.15" fill="#0B4A80"/>
<circle cx="463.87" cy="573.50" r="2.15" fill="#0B4A80"/>
<circle cx="498.10" cy="566.50" r="2.15" fill="#0B4A80"/>
<circle cx="532.33" cy="545.50" r="2.15" fill="#0B4A80"/>
<circle cx="566.56" cy="528.50" r="2.15" fill="#0B4A80"/>
<polyline points="429.64,573.50 463.87,562.60 498.10,537.30 532.33,523.10 566.56,528.40" fill="none" stroke="#AACF8E" stroke-width="1.9" stroke-linejoin="round"/>
<circle cx="429.64" cy="573.50" r="2.15" fill="#AACF8E"/>
<circle cx="463.87" cy="562.60" r="2.15" fill="#AACF8E"/>
<circle cx="498.10" cy="537.30" r="2.15" fill="#AACF8E"/>
<circle cx="532.33" cy="523.10" r="2.15" fill="#AACF8E"/>
<circle cx="566.56" cy="528.40" r="2.15" fill="#AACF8E"/>
<polyline points="429.64,582.40 463.87,583.40 498.10,567.60 532.33,546.50 566.56,528.10" fill="none" stroke="#27A03F" stroke-width="1.9" stroke-linejoin="round"/>
<circle cx="429.64" cy="582.40" r="2.15" fill="#27A03F"/>
<circle cx="463.87" cy="583.40" r="2.15" fill="#27A03F"/>
<circle cx="498.10" cy="567.60" r="2.15" fill="#27A03F"/>
<circle cx="532.33" cy="546.50" r="2.15" fill="#27A03F"/>
<circle cx="566.56" cy="528.10" r="2.15" fill="#27A03F"/>
<rect x="409.10" y="515.75" width="178.00" height="177.80" fill="none" stroke="#B3B3B3" stroke-width="1.1"/>
<line x1="429.64" x2="429.64" y1="693.55" y2="695.95" stroke="#B3B3B3" stroke-width="1.1"/>
<text x="429.64" y="705.8" text-anchor="middle" font-size="11" fill="#4D4D4D">50</text>
<line x1="463.87" x2="463.87" y1="693.55" y2="695.95" stroke="#B3B3B3" stroke-width="1.1"/>
<text x="463.87" y="705.8" text-anchor="middle" font-size="11" fill="#4D4D4D">75</text>
<line x1="498.10" x2="498.10" y1="693.55" y2="695.95" stroke="#B3B3B3" stroke-width="1.1"/>
<text x="498.10" y="705.8" text-anchor="middle" font-size="11" fill="#4D4D4D">100</text>
<line x1="532.33" x2="532.33" y1="693.55" y2="695.95" stroke="#B3B3B3" stroke-width="1.1"/>
<text x="532.33" y="705.8" text-anchor="middle" font-size="11" fill="#4D4D4D">150</text>
<line x1="566.56" x2="566.56" y1="693.55" y2="695.95" stroke="#B3B3B3" stroke-width="1.1"/>
<text x="566.56" y="705.8" text-anchor="middle" font-size="11" fill="#4D4D4D">200</text>
<line x1="41.70" x2="44.10" y1="663.6" y2="663.6" stroke="#B3B3B3" stroke-width="1.1"/>
<text x="40.20" y="667.4" text-anchor="end" font-size="11" fill="#4D4D4D">-0.25</text>
<line x1="41.70" x2="44.10" y1="624.0" y2="624.0" stroke="#B3B3B3" stroke-width="1.1"/>
<text x="40.20" y="627.8" text-anchor="end" font-size="11" fill="#4D4D4D">0.00</text>
<line x1="41.70" x2="44.10" y1="585.2" y2="585.2" stroke="#B3B3B3" stroke-width="1.1"/>
<text x="40.20" y="589.0" text-anchor="end" font-size="11" fill="#4D4D4D">0.25</text>
<line x1="41.70" x2="44.10" y1="546.3" y2="546.3" stroke="#B3B3B3" stroke-width="1.1"/>
<text x="40.20" y="550.1" text-anchor="end" font-size="11" fill="#4D4D4D">0.50</text>
<clipPath id="gc"><rect x="0" y="470" width="685" height="1.2"/></clipPath>
<text clip-path="url(#gc)" x="315.0" y="481.6" text-anchor="middle" font-size="16.2" fill="#000" opacity="0.6">Training Set Size</text>
<text transform="translate(315.4,722.4) scale(1,0.94)" text-anchor="middle" font-size="16.2" fill="#000">Training Set Size</text>
<text x="602.2" y="311.8" font-size="20.4" fill="#000">Method</text>
<line x1="603" x2="615" y1="331.2" y2="331.2" stroke="#BEBEBE" stroke-width="1.9"/>
<circle cx="608.8" cy="331.2" r="2.15" fill="#BEBEBE"/>
<text x="626.6" y="335.7" font-size="12.4" fill="#000"><tspan>Random</tspan></text>
<line x1="603" x2="615" y1="345.6" y2="345.6" stroke="#FFA640" stroke-width="1.9"/>
<circle cx="608.8" cy="345.6" r="2.15" fill="#FFA640"/>
<text x="626.6" y="348.5" font-size="12.4" fill="#000"><tspan>r</tspan><tspan x="633">–</tspan><tspan x="642.2">score</tspan></text>
<line x1="603" x2="615" y1="360.5" y2="360.5" stroke="#B35806" stroke-width="1.9"/>
<circle cx="608.8" cy="360.5" r="2.15" fill="#B35806"/>
<text x="626.6" y="366.6" font-size="12.4" fill="#000"><tspan>MSPE</tspan><tspan x="661.6" y="360.7" font-size="9.8">Ridge</tspan></text>
<line x1="603" x2="615" y1="376.7" y2="376.7" stroke="#41B6C4" stroke-width="1.9"/>
<circle cx="608.8" cy="376.7" r="2.15" fill="#41B6C4"/>
<text x="626.6" y="379.5" font-size="12.4" fill="#000"><tspan>CD</tspan><tspan x="644.6" y="382" font-size="9.0">ranking</tspan></text>
<line x1="603" x2="615" y1="392.7" y2="392.7" stroke="#0B4A80" stroke-width="1.9"/>
<circle cx="608.8" cy="392.7" r="2.15" fill="#0B4A80"/>
<text x="626.6" y="395.7" font-size="12.4" fill="#000"><tspan>CD</tspan><tspan x="644.6" y="397.9" font-size="9.0">mean(v2)</tspan></text>
<line x1="603" x2="615" y1="409.8" y2="409.8" stroke="#AACF8E" stroke-width="1.9"/>
<circle cx="608.8" cy="409.8" r="2.15" fill="#AACF8E"/>
<text x="626.6" y="411.8" font-size="12.4" fill="#000"><tspan>GV</tspan><tspan x="644.6" y="414.4" font-size="9.0">average</tspan></text>
<line x1="603" x2="615" y1="424.6" y2="424.6" stroke="#27A03F" stroke-width="1.9"/>
<circle cx="608.8" cy="424.6" r="2.15" fill="#27A03F"/>
<text x="626.6" y="427.8" font-size="12.4" fill="#000"><tspan>GV</tspan><tspan x="644.6" y="430.4" font-size="9.0">overall</tspan></text>
</svg></body></html>
